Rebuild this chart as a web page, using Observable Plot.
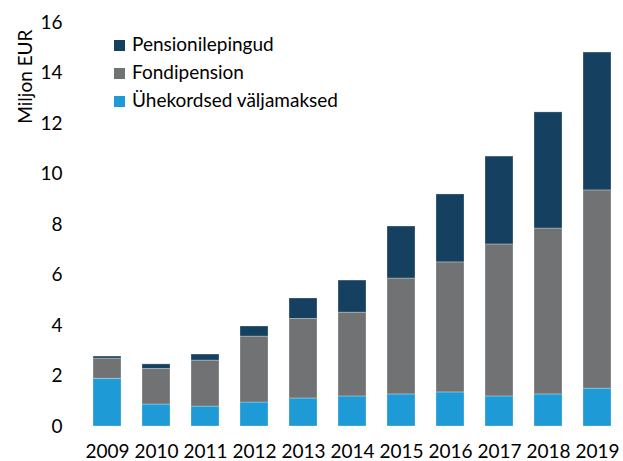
<!DOCTYPE html>
<html><head><meta charset="utf-8">
<script src="https://cdn.jsdelivr.net/npm/d3@7"></script>
<script src="https://cdn.jsdelivr.net/npm/@observablehq/plot@0.6"></script>
<style>
body{margin:0;background:#fff;font-family:Lato,"Open Sans",sans-serif;}
#wrap{position:relative;width:623px;height:461px;}
#legend{position:absolute;left:114px;top:30px;font-size:19px;color:#000;line-height:28px;}
#legend .sw{display:inline-block;width:11px;height:11px;margin-right:7px;vertical-align:0px;}
</style></head>
<body><div id="wrap"><div id="legend"></div></div>
<script>
const years = ["2009","2010","2011","2012","2013","2014","2015","2016","2017","2018","2019"];
const uhekordsed = [1.89,0.87,0.79,0.95,1.11,1.19,1.27,1.35,1.19,1.27,1.50];
const fondipension = [0.80,1.41,1.82,2.61,3.15,3.32,4.59,5.15,6.02,6.57,7.85];
const pensionilepingud = [0.08,0.18,0.24,0.40,0.81,1.27,2.06,2.69,3.48,4.60,5.46];
const seriesNames = ["Ühekordsed väljamaksed","Fondipension","Pensionilepingud"];
const colors = ["#1e9ad6","#717273","#15405f"];
const yLabel = "Miljon EUR";

const rows = [];
years.forEach((y,i)=>{
  rows.push({year:y, s:seriesNames[0], v:uhekordsed[i]});
  rows.push({year:y, s:seriesNames[1], v:fondipension[i]});
  rows.push({year:y, s:seriesNames[2], v:pensionilepingud[i]});
});

const chart = Plot.plot({
  width:623, height:461,
  marginLeft:82, marginRight:2, marginTop:22, marginBottom:35,
  style:{fontFamily:"Lato, 'Open Sans', sans-serif", fontSize:"19px", color:"#000"},
  x:{domain:years, paddingInner:0.43, paddingOuter:0.2, label:null, tickSize:0, tickPadding:18},
  y:{domain:[0,16], ticks:[0,2,4,6,8,10,12,14,16], tickSize:0, tickPadding:20, label:null},
  color:{domain:seriesNames, range:colors},
  marks:[
    Plot.barY(rows, {x:"year", y:"v", fill:"s", order:seriesNames, stroke:"#ffffff", strokeOpacity:0.35, strokeWidth:0.8}),
    Plot.text([yLabel], {text:d=>d, frameAnchor:"top-left", rotate:-90, textAnchor:"end", dx:-64, dy:7, fontSize:19, fill:"#000"})
  ]
});
document.getElementById("wrap").prepend(chart);

const leg = document.getElementById("legend");
[2,1,0].forEach(i=>{
  const d=document.createElement("div");
  d.innerHTML=`<span class="sw" style="background:${colors[i]}"></span>${seriesNames[i]}`;
  leg.appendChild(d);
});
</script></body></html>
